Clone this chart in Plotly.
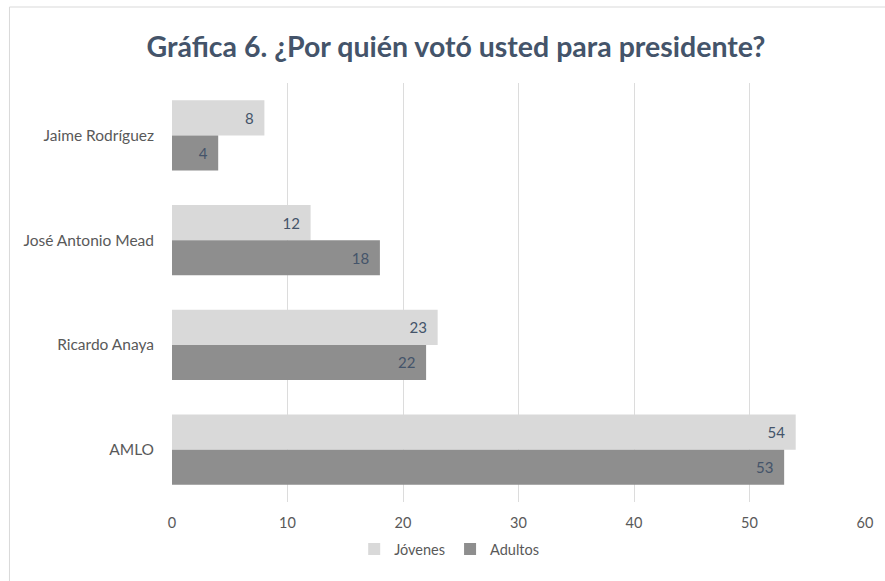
import plotly.graph_objects as go

categories = ["Jaime Rodríguez", "José Antonio Mead", "Ricardo Anaya", "AMLO"]
jovenes = [8, 12, 23, 54]
adultos = [4, 18, 22, 53]
x_ticks = [0, 10, 20, 30, 40, 50, 60]

FONT = "Lato, 'Open Sans', sans-serif"
TXT = "#44546a"
AX = "#595959"
PAD = "\u00a0\u00a0"

fig = go.Figure()
fig.add_trace(go.Bar(
    y=categories, x=jovenes, name="Jóvenes", orientation="h",
    marker=dict(color="#d9d9d9", line=dict(width=0)),
    texttemplate="%{x}" + PAD, textposition="inside", insidetextanchor="end",
    textfont=dict(color=TXT, size=15, family=FONT),
))
fig.add_trace(go.Bar(
    y=categories, x=adultos, name="Adultos", orientation="h",
    marker=dict(color="#8e8e8e", line=dict(width=0)),
    texttemplate="%{x}" + PAD, textposition="inside", insidetextanchor="end",
    textfont=dict(color=TXT, size=15, family=FONT),
))

L, R, T, B = 172, 18, 83, 79
W, H = 885, 581
pw, ph = W - L - R, H - T - B

fig.update_layout(
    width=W, height=H,
    margin=dict(l=L, r=R, t=T, b=B),
    paper_bgcolor="white", plot_bgcolor="white",
    barmode="group", bargap=0.33, bargroupgap=0,
    font=dict(family=FONT, color=AX, size=14),
    title=dict(
        text="<b>Gráfica 6. ¿Por quién votó usted para presidente?</b>",
        x=456 / W, xanchor="center", y=1 - 47 / H, yanchor="middle",
        font=dict(size=28.5, color=TXT, family=FONT),
    ),
    xaxis=dict(
        range=[0, 60], tickvals=x_ticks, showgrid=True, gridcolor="#dcdcdc",
        gridwidth=1, zeroline=False, showline=False, ticks="",
        tickfont=dict(size=14.5, color=AX), ticklabelstandoff=10,
    ),
    yaxis=dict(
        autorange="reversed", showgrid=False, showline=False, ticks="",
        tickfont=dict(size=15.5, color=AX), ticklabelstandoff=17,
    ),
    legend=dict(
        orientation="h", x=(450 - L) / pw, xanchor="center",
        y=-(549 - (H - B)) / ph, yanchor="middle",
        font=dict(size=14.5, color=AX),
        itemwidth=30, itemsizing="constant", tracegroupgap=0,
    ),
    showlegend=True,
)

fig.add_shape(
    type="rect", xref="paper", yref="paper",
    x0=(9 - L) / pw, x1=(900 - L) / pw,
    y0=((H - B) - 600) / ph, y1=((H - B) - 7) / ph,
    line=dict(color="#d9d9d9", width=1), fillcolor="rgba(0,0,0,0)",
    layer="below",
)

fig.write_html(
    "out.html",
    config={"displayModeBar": False},
    post_script="document.body.style.margin='0';document.body.style.overflow='hidden';",
)
